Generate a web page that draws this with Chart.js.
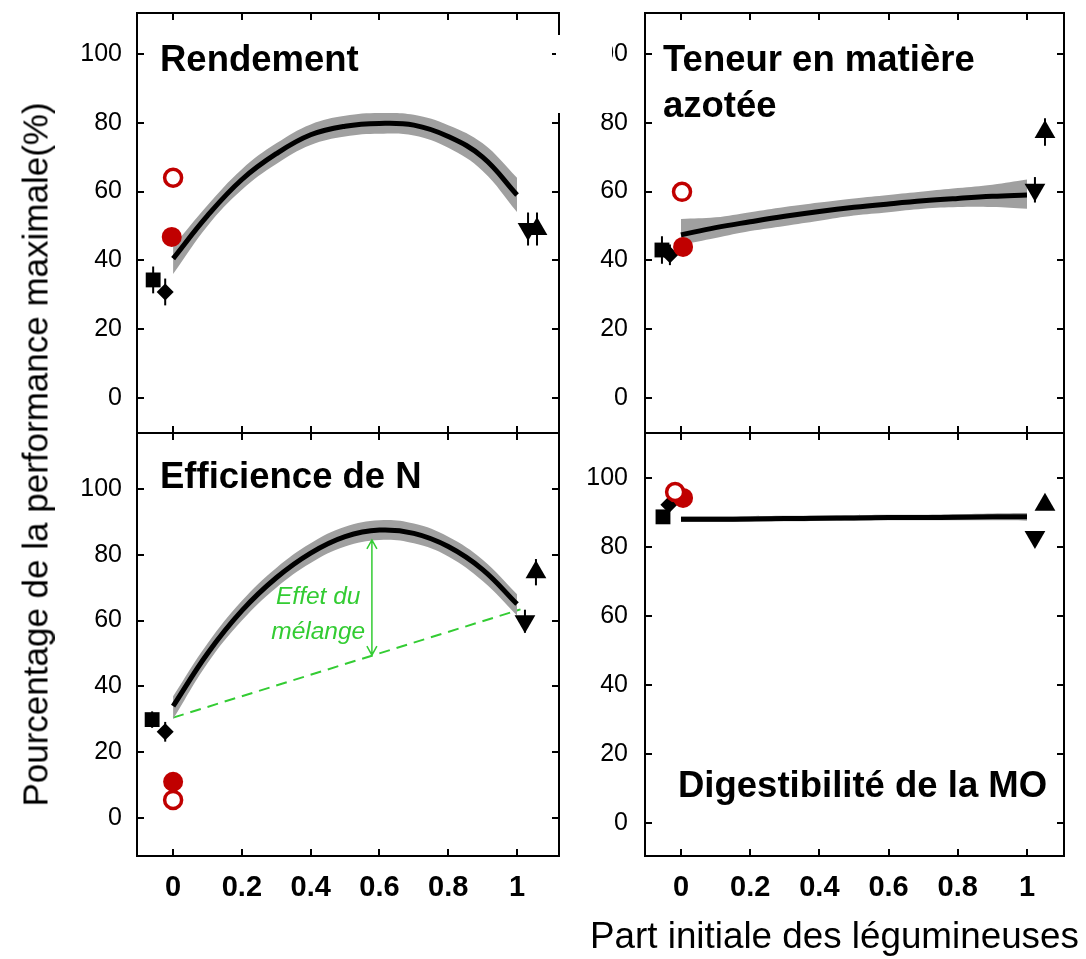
<!DOCTYPE html>
<html>
<head>
<meta charset="utf-8">
<script src="https://cdn.jsdelivr.net/npm/chart.js@4.4.0/dist/chart.umd.min.js"></script>
<style>
  body { margin: 0; background: #fff; width: 1086px; height: 959px; overflow: hidden; position: relative;
         font-family: 'Liberation Sans', Arial, sans-serif; }
  canvas { position: absolute; left: 0; top: 0; }
  .ttl { position: absolute; font-weight: bold; font-size: 36.5px; line-height: 1; color: #000; white-space: nowrap; z-index: 5; }
  .axt { position: absolute; font-size: 35px; line-height: 1; color: #000; white-space: nowrap; z-index: 5; }
  .mask { position: absolute; background: #fff; z-index: 4; }
</style>
</head>
<body>
<canvas id="p0" width="1086" height="959"></canvas>
<canvas id="p1" width="1086" height="959"></canvas>
<canvas id="p2" width="1086" height="959"></canvas>
<canvas id="p3" width="1086" height="959"></canvas>

<div class="mask" style="left:556px;top:35px;width:56px;height:78px"></div>

<div class="ttl" style="left:160px;top:41px">Rendement</div>
<div class="ttl" style="left:663px;top:41px">Teneur en matière</div>
<div class="ttl" style="left:663px;top:87px">azotée</div>
<div class="ttl" style="left:160px;top:458px">Efficience de N</div>
<div class="ttl" style="left:678px;top:767px">Digestibilité de la MO</div>

<div class="axt" style="left:-365px;top:437px;width:800px;text-align:center;transform:rotate(-90deg)">Pourcentage de la performance maximale(%)</div>
<div class="axt" style="left:590px;top:918px;font-size:36.8px">Part initiale des légumineuses</div>

<script>
// shared axes
const xShare = [0, 0.1, 0.2, 0.3, 0.4, 0.5, 0.6, 0.7, 0.8, 0.9, 1];
const xTicks = [0, 0.2, 0.4, 0.6, 0.8, 1];
const xTickLabels = ['0', '0.2', '0.4', '0.6', '0.8', '1'];
const yTicks = [0, 20, 40, 60, 80, 100];

// fitted curves and their grey bands
const rendFit  = [40.5, 53, 63.5, 71, 76.5, 79, 79.8, 79.3, 76, 70, 59];
const rendHigh = [44, 56, 66.5, 74, 79.5, 82, 82.8, 82.3, 79.3, 74, 64];
const rendLow  = [36, 50, 60.5, 68, 73.5, 76, 76.8, 76.3, 72.7, 66, 54];

const protFit  = [47.4, 49.5, 51.2, 52.8, 54.2, 55.4, 56.4, 57.3, 58, 58.6, 59];
const protHigh = [52, 52.5, 54, 55.5, 56.8, 58, 59, 60, 61, 62, 63.5];
const protLow  = [44.5, 46.5, 48.5, 50, 51.5, 53, 54, 55, 55.5, 55.5, 55];

const effFit  = [34, 50, 63, 73, 80.5, 85.5, 87.5, 86.5, 82.5, 75.5, 65];
const effHigh = [37, 53, 66, 76, 83.5, 88.5, 90.5, 89.5, 85.5, 78.5, 68];
const effLow  = [30, 47, 60, 70, 77.5, 82.5, 84.5, 83.5, 79.5, 72, 61.5];

const digFit  = [88, 88, 88.1, 88.2, 88.3, 88.4, 88.5, 88.5, 88.6, 88.7, 88.7];
const digHigh = [88.8, 88.8, 88.9, 89, 89.1, 89.2, 89.3, 89.3, 89.5, 89.7, 89.8];
const digLow  = [87.2, 87.2, 87.3, 87.4, 87.5, 87.6, 87.7, 87.7, 87.7, 87.7, 87.6];

// single points, one entry per panel (Rendement, Teneur, Efficience, Digestibilité)
const squareX = [-0.058, -0.055, -0.061, -0.052];
const squareY = [34.3, 43, 29.9, 88.7];
const squareErr = [3.9, 4, 2.5, 0];
const diamondX = [-0.023, -0.032, -0.023, -0.035];
const diamondY = [30.8, 41.6, 26.2, 92.2];
const diamondErr = [3.9, 3, 3, 0];
const upX = [1.058, 1.052, 1.055, 1.052];
const upY = [49.1, 77.3, 74.7, 92.2];
const upErr = [4.8, 4, 4, 0];
const downX = [1.032, 1.023, 1.023, 1.023];
const downY = [49.1, 60.5, 59.8, 82.9];
const downErr = [4.8, 3.7, 3.5, 0];
const fullX = [-0.004, 0.006, 0, 0.006];
const fullY = [46.8, 43.9, 11, 94.2];
const openX = [0, 0.003, 0, -0.017];
const openY = [64, 59.9, 5.5, 95.9];

// "Effet du mélange" annotation (Efficience de N)
const mixLineX = [0, 1.01];
const mixLineY = [30.5, 63.4];
const mixArrowX = 0.578;
const mixArrowY = [84.5, 49.5];
const mixText = ['Effet du', 'mélange'];
const mixTextX = 0.422;
const mixTextY = [67.2, 56.5];

const FONT = "'Liberation Sans', Arial, sans-serif";
const RED = '#c00000';
const GREEN = '#33cc33';
const GREY = '#a0a0a0';

const boxes = [
  { l: 137, t: 13,  r: 559,  b: 433, xmin: -0.105, xmax: 1.122, ymin: -10.2,  ymax: 111.9, pad: 15, xLab: false },
  { l: 645, t: 13,  r: 1064, b: 433, xmin: -0.104, xmax: 1.107, ymin: -10.2,  ymax: 111.9, pad: 17, xLab: false },
  { l: 137, t: 433, r: 559,  b: 856, xmin: -0.105, xmax: 1.122, ymin: -11.55, ymax: 117,   pad: 15, xLab: true },
  { l: 645, t: 433, r: 1064, b: 856, xmin: -0.104, xmax: 1.107, ymin: -9.57,  ymax: 113,   pad: 17, xLab: true }
];

const frameTicks = {
  id: 'frameTicks',
  afterDatasetsDraw(chart) {
    const { ctx, chartArea: a, scales } = chart;
    ctx.save();
    ctx.strokeStyle = '#000';
    ctx.lineWidth = 2;
    ctx.strokeRect(a.left, a.top, a.right - a.left, a.bottom - a.top);
    ctx.beginPath();
    yTicks.forEach(v => {
      const y = Math.round(scales.y.getPixelForValue(v));
      ctx.moveTo(a.left, y); ctx.lineTo(a.left + 7, y);
      ctx.moveTo(a.right, y); ctx.lineTo(a.right - 7, y);
    });
    xTicks.forEach(v => {
      const x = Math.round(scales.x.getPixelForValue(v));
      ctx.moveTo(x, a.top); ctx.lineTo(x, a.top + 7);
      ctx.moveTo(x, a.bottom); ctx.lineTo(x, a.bottom - 7);
    });
    ctx.stroke();
    ctx.restore();
  }
};

const errorBars = {
  id: 'errorBars',
  beforeDatasetsDraw(chart, args, opts) {
    const i = opts.panel;
    const { ctx, scales: { x, y } } = chart;
    ctx.save();
    ctx.strokeStyle = '#000';
    ctx.lineWidth = 2;
    [[squareX, squareY, squareErr], [diamondX, diamondY, diamondErr],
     [upX, upY, upErr], [downX, downY, downErr]].forEach(([xs, ys, es]) => {
      if (!es[i]) return;
      const px = x.getPixelForValue(xs[i]);
      ctx.beginPath();
      ctx.moveTo(px, y.getPixelForValue(ys[i] - es[i]));
      ctx.lineTo(px, y.getPixelForValue(ys[i] + es[i]));
      ctx.stroke();
    });
    ctx.restore();
  }
};

const mixNote = {
  id: 'mixNote',
  afterDatasetsDraw(chart, args, opts) {
    if (!opts.show) return;
    const { ctx, scales: { x, y } } = chart;
    const px = x.getPixelForValue(mixArrowX);
    const y1 = y.getPixelForValue(mixArrowY[0]);
    const y2 = y.getPixelForValue(mixArrowY[1]);
    ctx.save();
    ctx.strokeStyle = GREEN;
    ctx.lineWidth = 1.5;
    ctx.beginPath();
    ctx.moveTo(px, y1); ctx.lineTo(px, y2);
    ctx.moveTo(px - 5, y1 + 9); ctx.lineTo(px, y1); ctx.lineTo(px + 5, y1 + 9);
    ctx.moveTo(px - 5, y2 - 9); ctx.lineTo(px, y2); ctx.lineTo(px + 5, y2 - 9);
    ctx.stroke();
    ctx.fillStyle = GREEN;
    ctx.font = 'italic 24.5px ' + FONT;
    ctx.textAlign = 'center';
    ctx.textBaseline = 'middle';
    mixText.forEach((t, k) => ctx.fillText(t, x.getPixelForValue(mixTextX), y.getPixelForValue(mixTextY[k])));
    ctx.restore();
  }
};

function pts(xs, ys) {
  return xs.map((v, k) => ({ x: v, y: ys[k] }));
}

function makePanel(i, fit, high, low) {
  const b = boxes[i];
  const one = (xs, ys) => [{ x: xs[i], y: ys[i] }];
  const datasets = [
    { data: one(openX, openY), pointStyle: 'circle', pointRadius: 8.5, backgroundColor: '#fff',
      borderColor: RED, borderWidth: 3.5, order: -1 },
    { data: one(fullX, fullY), pointStyle: 'circle', pointRadius: 10, backgroundColor: RED,
      borderColor: RED, borderWidth: 0, order: 0 },
    { data: one(squareX, squareY), pointStyle: 'rect', pointRadius: 10.5, backgroundColor: '#000',
      borderWidth: 0, order: 1 },
    { data: one(diamondX, diamondY), pointStyle: 'rectRot', pointRadius: 8.5, backgroundColor: '#000',
      borderWidth: 0, order: 1 },
    { data: one(upX, upY), pointStyle: 'triangle', pointRadius: 12, backgroundColor: '#000',
      borderWidth: 0, order: 1 },
    { data: one(downX, downY), pointStyle: 'triangle', pointRotation: 180, pointRadius: 12,
      backgroundColor: '#000', borderWidth: 0, order: 1 },
    { type: 'line', data: pts(xShare, fit), borderColor: '#000', borderWidth: 5, pointRadius: 0,
      tension: 0.4, fill: false, order: 2 },
    { type: 'line', data: pts(xShare, high), borderWidth: 0, borderColor: GREY, backgroundColor: GREY,
      pointRadius: 0, tension: 0.4, fill: '+1', order: 3 },
    { type: 'line', data: pts(xShare, low), borderWidth: 0, borderColor: GREY, pointRadius: 0,
      tension: 0.4, fill: false, order: 4 }
  ];
  if (i === 2) {
    datasets.push({ type: 'line', data: pts(mixLineX, mixLineY), borderColor: GREEN, borderWidth: 2,
      borderDash: [11, 7], pointRadius: 0, fill: false, order: 5 });
  }
  new Chart(document.getElementById('p' + i), {
    type: 'scatter',
    data: { datasets },
    options: {
      responsive: false,
      animation: false,
      events: [],
      layout: { padding: { left: b.l - 60, top: b.t, right: 1086 - b.r, bottom: 959 - b.b - 60 } },
      plugins: {
        legend: { display: false },
        tooltip: { enabled: false },
        errorBars: { panel: i },
        mixNote: { show: i === 2 }
      },
      elements: { point: { hoverRadius: 0 } },
      scales: {
        x: {
          type: 'linear', min: b.xmin, max: b.xmax,
          grid: { display: false, drawTicks: false },
          border: { display: false },
          afterBuildTicks: s => { s.ticks = xTicks.map(v => ({ value: v })); },
          afterFit: s => { s.height = 60; s.paddingLeft = 0; s.paddingRight = 0; },
          ticks: {
            display: b.xLab, padding: 15, autoSkip: false, maxRotation: 0, color: '#000',
            font: { family: FONT, size: 29, weight: 'bold' },
            callback: (v, k) => xTickLabels[k]
          }
        },
        y: {
          type: 'linear', min: b.ymin, max: b.ymax,
          grid: { display: false, drawTicks: false },
          border: { display: false },
          afterBuildTicks: s => { s.ticks = yTicks.map(v => ({ value: v })); },
          afterFit: s => { s.width = 60; s.paddingTop = 0; s.paddingBottom = 0; },
          ticks: {
            padding: b.pad, color: '#000',
            font: { family: FONT, size: 25 },
            callback: (v, k) => String(yTicks[k])
          }
        }
      }
    },
    plugins: [frameTicks, errorBars, mixNote]
  });
}

makePanel(0, rendFit, rendHigh, rendLow);
makePanel(1, protFit, protHigh, protLow);
makePanel(2, effFit, effHigh, effLow);
makePanel(3, digFit, digHigh, digLow);
</script>
</body>
</html>
